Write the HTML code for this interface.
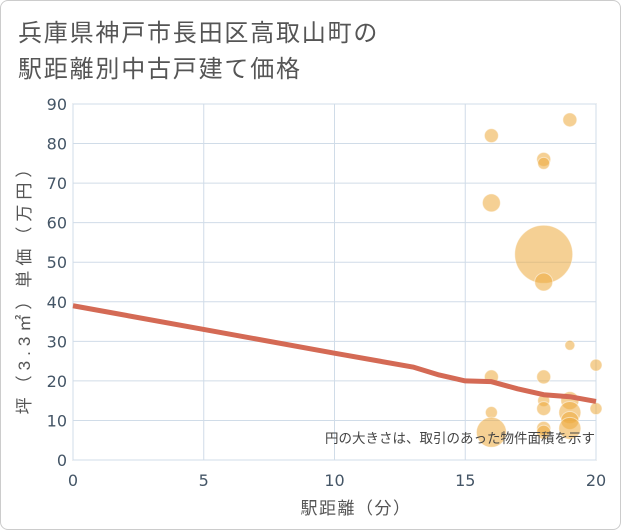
<!DOCTYPE html>
<html><head><meta charset="utf-8"><style>
body{margin:0;background:#fff;font-family:"Liberation Sans","Noto Sans CJK JP",sans-serif;}
#wrap{position:relative;width:619px;height:528px;border:1px solid #ccc;border-radius:8px;overflow:hidden;}
</style></head><body>
<div id="wrap">
<svg id="chart" width="621" height="530" style="position:absolute;left:-1px;top:-1px">
<text x="18" y="41" font-size="24" letter-spacing="1.8" fill="#555">兵庫県神戸市長田区高取山町の</text>
<text x="18" y="77" font-size="24" letter-spacing="1.8" fill="#555">駅距離別中古戸建て価格</text>
<g id="grid"></g><g id="marks"></g><g id="axes"></g>
<text x="595" y="443" font-size="13.5" fill="#444" text-anchor="end">円の大きさは、取引のあった物件面積を示す</text>
<text x="356" y="514" font-size="17" letter-spacing="1.5" fill="#555" text-anchor="middle">駅距離（分）</text>
<text transform="translate(30,285) rotate(-90)" font-size="17" letter-spacing="5" fill="#555" text-anchor="middle">坪（3.3㎡）単価（万円）</text>
</svg>
</div>
<script>
const xTicks=[0,5,10,15,20];
const yTicks=[0,10,20,30,40,50,60,70,80,90];
const ptX=[16,19,18,18,16,18,18,19,20,16,18,16,18,18,19,19,19,19,18,18,16,20];
const ptY=[82,86,76,75,65,52,45,29,24,21,21,12,15,13,15,12,10,8,8,7,7,13];
const ptR=[7,7,7,6,9,29,9,5,6,7,7,6,6,7,9,11,9,11,7,7,15,6];
const lineX=[0,5,10,13,14,15,16,17,18,19,20];
const lineY=[39,33,27,23.5,21.5,20,19.8,18,16.5,16,14.8];
const X=v=>73+v*(596-73)/20, Y=v=>460-v*(460-104)/90;
const ns="http://www.w3.org/2000/svg";
function mk(p,t,a){const e=document.createElementNS(ns,t);for(const k in a)e.setAttribute(k,a[k]);p.appendChild(e);return e;}
const grid=document.getElementById('grid'),marks=document.getElementById('marks'),axes=document.getElementById('axes');
mk(grid,'rect',{x:73,y:104,width:523,height:356,fill:'#fff',stroke:'#bbb'});
xTicks.forEach(t=>{const l=mk(grid,'line',{x1:X(t),x2:X(t),y1:104,y2:460,stroke:'#d0dce8'});


const tx=mk(axes,'text',{x:X(t),y:486,'font-size':16,'font-family':'DejaVu Sans, sans-serif',fill:'#445566','text-anchor':'middle'});tx.textContent=t;

});
yTicks.forEach(t=>{const l=mk(grid,'line',{x1:73,x2:596,y1:Y(t),y2:Y(t),stroke:'#d0dce8'});


const tx=mk(axes,'text',{x:67,y:Y(t)+6,'font-size':16,'font-family':'DejaVu Sans, sans-serif',fill:'#445566','text-anchor':'end'});tx.textContent=t;

});
ptX.forEach((v,i)=>{const c=mk(marks,'circle',{cx:X(v),cy:Y(ptY[i]),r:ptR[i],fill:'rgba(237,170,60,0.55)',stroke:'rgba(255,255,255,0.5)'});

});
const p=mk(marks,'polyline',{points:lineX.map((v,i)=>X(v)+','+Y(lineY[i])).join(' '),fill:'none',stroke:'#d46a55','stroke-width':5,'stroke-linejoin':'round'});


</script>
</body></html>
